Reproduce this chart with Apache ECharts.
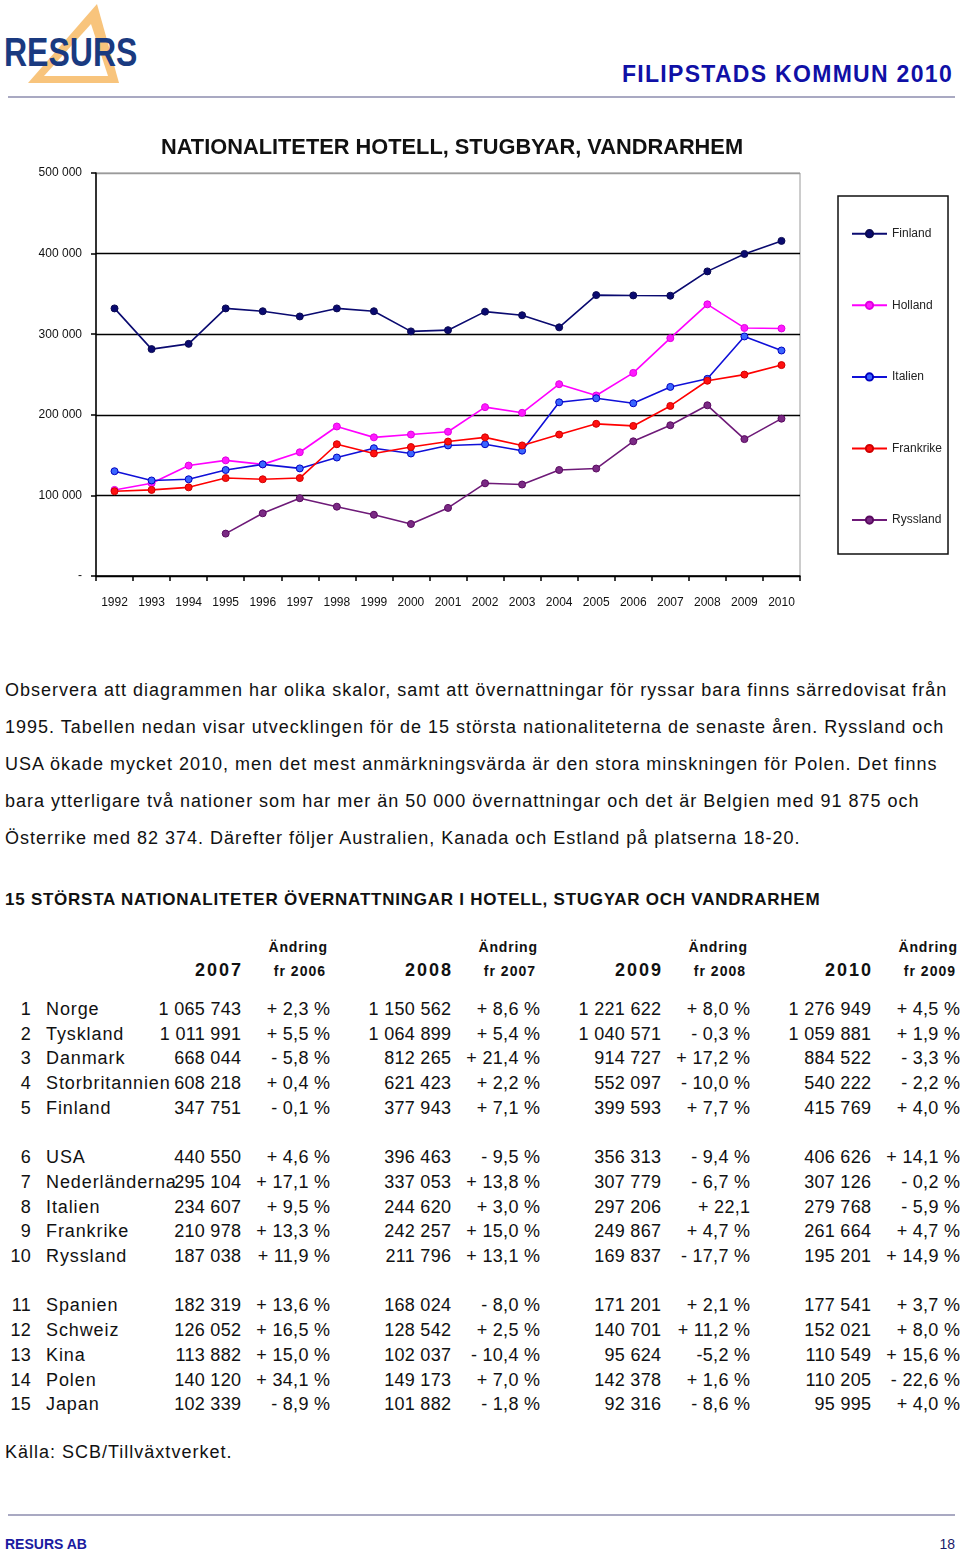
<!DOCTYPE html>
<html>
<head>
<meta charset="utf-8">
<script src="https://cdn.jsdelivr.net/npm/echarts@6/dist/echarts.min.js"></script>
<style>
  html, body { margin:0; padding:0; background:#fff; }
  #page { position:relative; width:960px; height:1556px; overflow:hidden; font-family:'Liberation Sans', Arial, sans-serif; color:#111; }
  .abs { position:absolute; white-space:nowrap; }
  .para { font-size:18px; line-height:22px; letter-spacing:1.0px; left:5px; }
  .cell { font-size:18px; line-height:22px; letter-spacing:0.3px; }
  .name { font-size:18px; line-height:22px; letter-spacing:0.9px; }
  .hd1 { font-size:14px; line-height:18px; font-weight:bold; letter-spacing:0.8px; }
  .hd2 { font-size:14px; line-height:18px; font-weight:bold; letter-spacing:1px; }
  .hdy { font-size:18px; line-height:22px; font-weight:bold; letter-spacing:2px; }
</style>
</head>
<body>
<div id="page">
  <svg class="abs" style="left:0;top:0" width="160" height="95">
    <polygon points="97,4 28,83 119,83" fill="#F8C47C"/>
    <polygon points="91,24 44,76 108,76" fill="#ffffff"/>
  </svg>
  <div class="abs" style="left:4px;top:28px;font-size:40px;line-height:48px;font-weight:bold;color:#1a3a80;transform:scaleX(0.8);transform-origin:0 0;">RESURS</div>
  <div class="abs" style="right:7px;top:61px;font-size:23px;line-height:26px;font-weight:bold;color:#1010a6;letter-spacing:1.3px;">FILIPSTADS KOMMUN 2010</div>
  <div class="abs" style="left:8px;top:96px;width:947px;height:2px;background:#a9a9c2;"></div>

  <div id="chart" class="abs" style="left:0;top:100px;width:960px;height:540px;"></div>

  <div class="abs" style="left:5px;top:890px;font-size:17px;line-height:20px;font-weight:bold;letter-spacing:0.75px;">15 STÖRSTA NATIONALITETER ÖVERNATTNINGAR I HOTELL, STUGYAR OCH VANDRARHEM</div>

  <div class="abs" style="left:5px;top:1441px;font-size:18px;line-height:22px;letter-spacing:1.0px;">Källa: SCB/Tillväxtverket.</div>
  <div class="abs" style="left:8px;top:1514px;width:947px;height:2px;background:#a9a9c2;"></div>
  <div class="abs" style="left:5px;top:1536px;font-size:14px;line-height:17px;font-weight:bold;color:#1a1aa0;">RESURS AB</div>
  <div class="abs" style="right:5px;top:1536px;font-size:14px;line-height:17px;color:#1a1a6a;">18</div>
</div>
<script>
// ---- chart data ----
var years = ['1992','1993','1994','1995','1996','1997','1998','1999','2000','2001','2002','2003','2004','2005','2006','2007','2008','2009','2010'];
var finland   = [332000, 281500, 288000, 332000, 328500, 322000, 332000, 328500, 303500, 305000, 328000, 323500, 308500, 348500, 348100, 347751, 377943, 399593, 415769];
var holland   = [106800, 115000, 137000, 143500, 138500, 153500, 185500, 172000, 175500, 179000, 209500, 202500, 238000, 224000, 252000, 295104, 337053, 307779, 307126];
var italien   = [130000, 118500, 120000, 131500, 138500, 133500, 147000, 158500, 152000, 162000, 163500, 155500, 215500, 220500, 214300, 234607, 244620, 297206, 279768];
var frankrike = [105200, 106800, 110000, 121500, 120000, 121500, 163500, 152000, 160000, 166800, 172000, 162000, 175500, 188800, 186200, 210978, 242257, 249867, 261664];
var ryssland  = [null, null, null, 52600, 77800, 96500, 86000, 76000, 64500, 84500, 115000, 113500, 131500, 133300, 167100, 187038, 211796, 169837, 195201];
var seriesNames = ['Finland', 'Holland', 'Italien', 'Frankrike', 'Ryssland'];
var yTickLabels = ['-', '100 000', '200 000', '300 000', '400 000', '500 000'];
var chartTitle = 'NATIONALITETER HOTELL, STUGBYAR, VANDRARHEM';

// ---- text data ----
var paragraphLines = [
  'Observera att diagrammen har olika skalor, samt att övernattningar för ryssar bara finns särredovisat från',
  '1995. Tabellen nedan visar utvecklingen för de 15 största nationaliteterna de senaste åren. Ryssland och',
  'USA ökade mycket 2010, men det mest anmärkningsvärda är den stora minskningen för Polen. Det finns',
  'bara ytterligare två nationer som har mer än 50 000 övernattningar och det är Belgien med 91 875 och',
  'Österrike med 82 374. Därefter följer Australien, Kanada och Estland på platserna 18-20.'
];
var tableYears = ['2007', '2008', '2009', '2010'];
var changeFrom = ['fr 2006', 'fr 2007', 'fr 2008', 'fr 2009'];
var tableNames = ['Norge','Tyskland','Danmark','Storbritannien','Finland','USA','Nederländerna','Italien','Frankrike','Ryssland','Spanien','Schweiz','Kina','Polen','Japan'];
var val2007 = ['1 065 743','1 011 991','668 044','608 218','347 751','440 550','295 104','234 607','210 978','187 038','182 319','126 052','113 882','140 120','102 339'];
var chg2007 = ['+ 2,3 %','+ 5,5 %','- 5,8 %','+ 0,4 %','- 0,1 %','+ 4,6 %','+ 17,1 %','+ 9,5 %','+ 13,3 %','+ 11,9 %','+ 13,6 %','+ 16,5 %','+ 15,0 %','+ 34,1 %','- 8,9 %'];
var val2008 = ['1 150 562','1 064 899','812 265','621 423','377 943','396 463','337 053','244 620','242 257','211 796','168 024','128 542','102 037','149 173','101 882'];
var chg2008 = ['+ 8,6 %','+ 5,4 %','+ 21,4 %','+ 2,2 %','+ 7,1 %','- 9,5 %','+ 13,8 %','+ 3,0 %','+ 15,0 %','+ 13,1 %','- 8,0 %','+ 2,5 %','- 10,4 %','+ 7,0 %','- 1,8 %'];
var val2009 = ['1 221 622','1 040 571','914 727','552 097','399 593','356 313','307 779','297 206','249 867','169 837','171 201','140 701','95 624','142 378','92 316'];
var chg2009 = ['+ 8,0 %','- 0,3 %','+ 17,2 %','- 10,0 %','+ 7,7 %','- 9,4 %','- 6,7 %','+ 22,1','+ 4,7 %','- 17,7 %','+ 2,1 %','+ 11,2 %','-5,2 %','+ 1,6 %','- 8,6 %'];
var val2010 = ['1 276 949','1 059 881','884 522','540 222','415 769','406 626','307 126','279 768','261 664','195 201','177 541','152 021','110 549','110 205','95 995'];
var chg2010 = ['+ 4,5 %','+ 1,9 %','- 3,3 %','- 2,2 %','+ 4,0 %','+ 14,1 %','- 0,2 %','- 5,9 %','+ 4,7 %','+ 14,9 %','+ 3,7 %','+ 8,0 %','+ 15,6 %','- 22,6 %','+ 4,0 %'];

// ---- text layout ----
(function () {
  var page = document.getElementById('page');
  function add(cls, text, style) {
    var d = document.createElement('div');
    d.className = 'abs ' + cls;
    d.textContent = text;
    for (var k in style) d.style[k] = style[k];
    page.appendChild(d);
    return d;
  }
  paragraphLines.forEach(function (t, i) {
    add('para', t, { top: (679 + i * 37) + 'px' });
  });
  var valRight = [241, 451, 661, 871];
  var chgRight = [330, 540, 750, 960];
  var hdRight = [327, 537, 747, 957];
  var frRight = [325, 535, 745, 955];
  for (var c = 0; c < 4; c++) {
    add('hd1', 'Ändring', { right: (960 - hdRight[c] - 0.8) + 'px', top: '938px' });
    add('hd2', changeFrom[c], { right: (960 - frRight[c] - 1) + 'px', top: '962px' });
    add('hdy', tableYears[c], { right: (960 - valRight[c] - 2) + 'px', top: '959px' });
  }
  var vals = [val2007, val2008, val2009, val2010];
  var chgs = [chg2007, chg2008, chg2009, chg2010];
  for (var r = 0; r < tableNames.length; r++) {
    var k = r + Math.floor(r / 5);
    var y = 1009 + k * 24.7 - 11;
    add('cell', String(r + 1), { right: (960 - 31) + 'px', top: y + 'px' });
    add('name', tableNames[r], { left: '46px', top: y + 'px' });
    for (var c2 = 0; c2 < 4; c2++) {
      add('cell', vals[c2][r], { right: (960 - valRight[c2] - 0.3) + 'px', top: y + 'px' });
      add('cell', chgs[c2][r], { right: (960 - chgRight[c2] - 0.3) + 'px', top: y + 'px' });
    }
  }
})();

// ---- chart ----
var chart = echarts.init(document.getElementById('chart'), null, { renderer: 'canvas' });
var FONT = "'Liberation Sans', Arial, sans-serif";
var colors = {
  Finland:   { line: '#0a0a70', fill: '#0a0a70', border: '#0a0a50' },
  Holland:   { line: '#ff00ff', fill: '#ff1aff', border: '#e000e0' },
  Italien:   { line: '#1010d8', fill: '#3a66ff', border: '#0000c0' },
  Frankrike: { line: '#ff0000', fill: '#ff1010', border: '#d00000' },
  Ryssland:  { line: '#6e1a78', fill: '#7a2a84', border: '#5a0a60' }
};
var dataByName = { Finland: finland, Holland: holland, Italien: italien, Frankrike: frankrike, Ryssland: ryssland };
chart.setOption({
  animation: false,
  textStyle: { fontFamily: FONT },
  title: {
    text: chartTitle,
    left: 161, top: 37, padding: 0,
    textStyle: { fontSize: 21.8, fontWeight: 'bold', color: '#111', fontFamily: FONT }
  },
  legend: {
    orient: 'vertical',
    left: 838, top: 96,
    padding: [31.7, 6, 28, 13],
    itemWidth: 35, itemHeight: 9, itemGap: 59.6,
    borderColor: '#111', borderWidth: 1.5,
    textStyle: { fontSize: 12, color: '#222', fontFamily: FONT },
    data: seriesNames
  },
  grid: {
    left: 96, right: 160, top: 73, bottom: 64,
    show: true, borderColor: '#9a9a9a', borderWidth: 1
  },
  xAxis: {
    type: 'category',
    data: years,
    boundaryGap: true,
    axisLine: { lineStyle: { color: '#000', width: 1.5 } },
    axisTick: { show: true, length: 5, lineStyle: { color: '#000', width: 1.5 } },
    axisLabel: { fontSize: 12, color: '#111', margin: 21, fontFamily: FONT }
  },
  yAxis: {
    type: 'value',
    min: 0, max: 500000, interval: 100000,
    axisLine: { show: true, lineStyle: { color: '#000', width: 1.5 } },
    axisTick: { show: true, length: 5, lineStyle: { color: '#000', width: 1.5 } },
    splitLine: { show: true, lineStyle: { color: ['#000', '#000', '#000', '#000', '#000', '#9a9a9a'], width: 1.3 } },
    axisLabel: {
      fontSize: 12, color: '#111', margin: 14, fontFamily: FONT,
      formatter: function (v) { return yTickLabels[Math.round(v / 100000)]; }
    }
  },
  series: seriesNames.map(function (n) {
    return {
      name: n,
      type: 'line',
      data: dataByName[n],
      connectNulls: false,
      symbol: 'circle',
      symbolSize: 7,
      showSymbol: true,
      lineStyle: { color: colors[n].line, width: 1.6 },
      itemStyle: { color: colors[n].fill, borderColor: colors[n].border, borderWidth: 1 },
      emphasis: { disabled: true }
    };
  })
});
</script>
</body>
</html>
